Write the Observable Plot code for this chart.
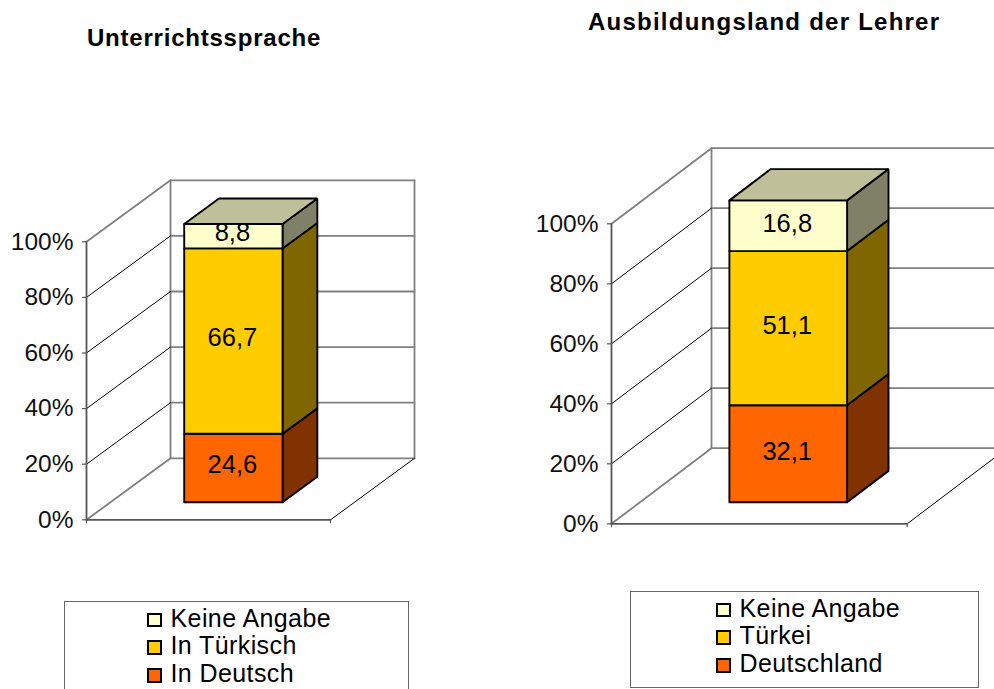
<!DOCTYPE html>
<html lang="de">
<head>
<meta charset="utf-8">
<script src="https://cdn.jsdelivr.net/npm/d3@7"></script>
<script src="https://cdn.jsdelivr.net/npm/@observablehq/plot@0.6"></script>
<style>
  html, body { margin: 0; padding: 0; background: #fff; width: 994px; height: 689px; overflow: hidden; position: relative; font-family: "Liberation Sans", Arial, sans-serif; color: #000; }
  .title { position: absolute; font-weight: bold; font-size: 24px; white-space: nowrap; line-height: 28px; letter-spacing: 0.78px; }
  #t1 { left: 87px; top: 24px; }
  #t2 { left: 588px; top: 8px; letter-spacing: 1.24px; }
  .legend { position: absolute; box-sizing: border-box; border: 1.8px solid #666; background: #fff; }
  #l1 { left: 64px; top: 601px; width: 345px; height: 100px; }
  #l2 { left: 630px; top: 591px; width: 349px; height: 97px; }
  .row { position: absolute; height: 27.7px; display: flex; align-items: center; font-size: 25px; line-height: 27.7px; white-space: nowrap; letter-spacing: 0.4px; }
  .sw { box-sizing: border-box; width: 14.5px; height: 14.5px; border: 2px solid #000; margin-right: 9px; margin-top: 3px; flex: none; }
  svg { position: absolute; top: 0; }
</style>
</head>
<body>
<div class="title" id="t1"></div>
<div class="title" id="t2"></div>
<div class="legend" id="l1"></div>
<div class="legend" id="l2"></div>
<script>
const titleLeft = "Unterrichtssprache";
const titleRight = "Ausbildungsland der Lehrer";
const seriesLeft = ["In Deutsch", "In Türkisch", "Keine Angabe"];
const seriesRight = ["Deutschland", "Türkei", "Keine Angabe"];
const valuesLeft = [24.6, 66.7, 8.8];
const valuesRight = [32.1, 51.1, 16.8];
const frontColors = ["#FF6600", "#FFCC00", "#FFFFCC"];
const sideColors = ["#803300", "#806600", "#808066"];
const topColor = "#BFBF99";
const yTicks = [0, 20, 40, 60, 80, 100];

const barX0 = 0.302, barT0 = 0.286, barT1 = 0.70;

function panel({values, left, marginLeft, marginRight, marginTop, marginBottom, kx, ky, labelDx, labelDy, barX1, barScale}) {
  const P = (x, v, t) => ({px: x + t * kx, py: v + t * ky});
  const B = (x, v, t) => P(x, v * barScale, t);
  const poly = (id, fill, pts) => pts.concat([pts[0]]).map(p => ({id, fill, ...p}));
  const polys = [];
  let base = 0;
  const labels = [];
  values.forEach((val, i) => {
    const end = base + val;
    polys.push(...poly("s" + i, sideColors[i], [B(barX1, base, barT0), B(barX1, base, barT1), B(barX1, end, barT1), B(barX1, end, barT0)]));
    polys.push(...poly("f" + i, frontColors[i], [B(barX0, base, barT0), B(barX1, base, barT0), B(barX1, end, barT0), B(barX0, end, barT0)]));
    const c = B((barX0 + barX1) / 2, (base + end) / 2, barT0);
    labels.push({...c, text: String(val).replace(".", ",")});
    base = end;
  });
  polys.push(...poly("top", topColor, [B(barX0, base, barT0), B(barX1, base, barT0), B(barX1, base, barT1), B(barX0, base, barT1)]));

  const seg = (id, a, b) => [{id, ...a}, {id, ...b}];
  const backH = yTicks.flatMap(v => seg("b" + v, P(0, v, 1), P(1, v, 1)));
  const diag = yTicks.filter(v => v > 0 && v < 100).flatMap(v => seg("d" + v, P(0, v, 0), P(0, v, 1)));
  const outer = [0, 100].flatMap(v => seg("o" + v, P(0, v, 0), P(0, v, 1)));
  const backV = [0, 1].flatMap(x => seg("v" + x, P(x, 0, 1), P(x, 100, 1)));
  const floorSide = seg("fs", P(1, 0, 0), P(1, 0, 1));
  const front = [...seg("ax", P(0, 0, 0), P(0, 100, 0)), ...seg("fl", P(0, 0, 0), P(1, 0, 0))];
  const ln = (data, stroke, strokeWidth) => Plot.line(data, {x: "px", y: "py", z: "id", stroke, strokeWidth});

  const svg = Plot.plot({
    width: 497, height: 689,
    marginLeft, marginRight, marginTop, marginBottom,
    x: {domain: [0, 1], axis: null},
    y: {domain: [0, 100], axis: null},
    color: {type: "identity"},
    style: {fontFamily: "Liberation Sans, Arial, sans-serif", background: "transparent", left: left + "px", overflow: "hidden"},
    marks: [
      ln(backH, "#808080", 1.8),
      ln(backV, "#808080", 1.8),
      ln(outer, "#808080", 1.8),
      ln(diag, "#000", 1),
      ln(floorSide, "#000", 1),
      ln(front, "#555", 1.8),
      Plot.axisX({ticks: [0, 1], tickFormat: () => "", tickSize: 4, stroke: "#555", strokeWidth: 1.2, label: null}),
      Plot.axisY({ticks: yTicks, tickFormat: d => d + "%", tickSize: 4, tickPadding: 9, fontSize: 24.5, stroke: "#555", strokeWidth: 1.2, label: null, fill: "#111"}),
      Plot.line(polys, {x: "px", y: "py", z: "id", fill: "fill", stroke: "#000", strokeWidth: 1.9, strokeLinejoin: "miter"}),
      Plot.text(labels, {x: "px", y: "py", text: "text", fontSize: 25.5, fill: "#000", dx: labelDx, dy: labelDy})
    ]
  });
  document.body.appendChild(svg);
}

panel({values: valuesLeft, left: 0, marginLeft: 86, marginRight: 167, marginTop: 241.3, marginBottom: 169.7, kx: 84 / 244, ky: 61.5 / 2.78, labelDx: -1, labelDy: -3, barX1: 0.705, barScale: 1});
panel({values: valuesRight, left: 497, marginLeft: 114, marginRight: 87.3, marginTop: 223.3, marginBottom: 165.7, kx: 100 / 295.7, ky: 75.6 / 3, labelDx: -1, labelDy: -2, barX1: 0.700, barScale: 1.006});

document.getElementById("t1").textContent = titleLeft;
document.getElementById("t2").textContent = titleRight;

function legend(id, series, swLeft, rowTop) {
  const box = document.getElementById(id);
  [2, 1, 0].forEach((i, r) => {
    const row = document.createElement("div");
    row.className = "row";
    row.style.left = swLeft + "px";
    row.style.top = (rowTop + r * 27.8) + "px";
    const sw = document.createElement("span");
    sw.className = "sw";
    sw.style.background = frontColors[i];
    const tx = document.createElement("span");
    tx.textContent = series[i];
    row.append(sw, tx);
    box.appendChild(row);
  });
}
legend("l1", seriesLeft, 82, 2.5);
legend("l2", seriesRight, 85, 2.5);
</script>
</body>
</html>
